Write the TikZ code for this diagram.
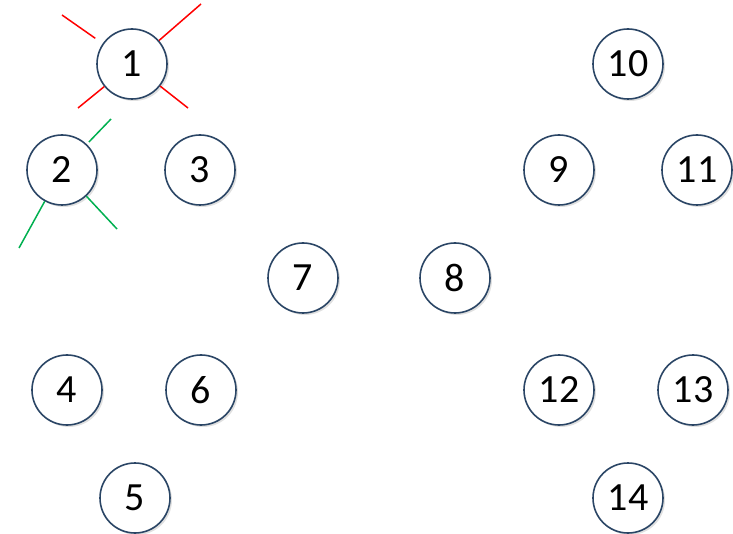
\documentclass[tikz,border=0pt]{standalone}
\usepackage{fontspec}
\setmainfont{Carlito}
\usetikzlibrary{shadows}
\definecolor{ringblue}{HTML}{2A4565}
\definecolor{linegreen}{HTML}{00B050}
\tikzset{
  vert/.style={circle, draw=ringblue, line width=1.6pt, fill=white,
    minimum size=70pt, inner sep=0pt,
    font=\fontsize{40}{40}\selectfont,
    drop shadow={shadow xshift=2pt, shadow yshift=-2pt, fill=black!20, opacity=0.6}},
  redray/.style={draw=red, line width=1.5pt},
  greenray/.style={draw=linegreen, line width=1.5pt}
}
\begin{document}
\begin{tikzpicture}[x=1pt, y=-1pt]
\useasboundingbox (0,0) rectangle (733,534);
\node[vert] (n1)  at (132,64)  {1};
\node[vert] (n2)  at (62,170)  {2};
\node[vert] (n3)  at (200,170) {3};
\node[vert] (n4)  at (67,390)  {4};
\node[vert] (n5)  at (135,498) {5};
\node[vert] (n6)  at (201,390) {6};
\node[vert] (n7)  at (303,278) {7};
\node[vert] (n8)  at (455,278) {8};
\node[vert] (n9)  at (559,170) {9};
\node[vert] (n10) at (628,64)  {10};
\node[vert] (n11) at (697,170) {11};
\node[vert] (n12) at (559,390) {12};
\node[vert] (n13) at (693,390) {13};
\node[vert] (n14) at (628,498) {14};
\coordinate (r1) at (62,15);
\coordinate (r2) at (201,4);
\coordinate (r3) at (78,108);
\coordinate (r4) at (188,108);
\coordinate (g1) at (111,119);
\coordinate (g2) at (19,248);
\coordinate (g3) at (117,229);
\draw[redray, shorten <=9pt] (n1) -- (r1);
\draw[redray] (n1) -- (r2);
\draw[redray] (n1) -- (r3);
\draw[redray] (n1) -- (r4);
\draw[greenray, shorten <=3pt] (n2) -- (g1);
\draw[greenray] (n2) -- (g2);
\draw[greenray] (n2) -- (g3);
\end{tikzpicture}
\end{document}
